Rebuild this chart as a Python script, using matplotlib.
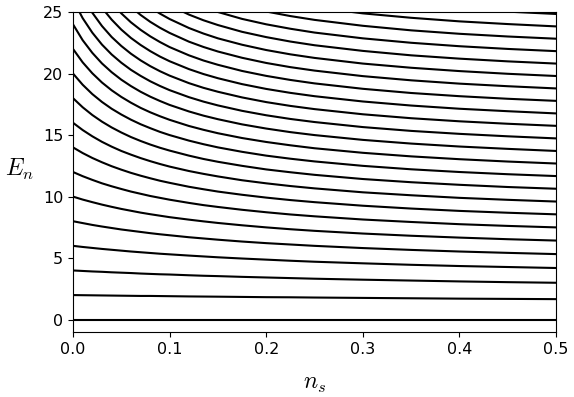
import matplotlib
matplotlib.use("Agg")
import matplotlib.pyplot as plt

plt.rcParams["mathtext.fontset"] = "cm"

# sample positions along n_s
n_s = [0.0, 0.01, 0.02, 0.03, 0.04, 0.05, 0.06, 0.07, 0.08, 0.09, 0.10, 0.12,
       0.135, 0.15, 0.175, 0.20, 0.225, 0.25, 0.30, 0.35, 0.40, 0.45, 0.50]

# energy levels E_n at the n_s positions above
level_00 = [0.0] * 23
level_01 = [2.00, 1.99, 1.98, 1.97, 1.96, 1.95, 1.94, 1.93, 1.93, 1.92, 1.91, 1.89, 1.88, 1.87, 1.85, 1.83, 1.82, 1.80, 1.77, 1.74, 1.71, 1.69, 1.67]
level_02 = [4.00, 3.96, 3.92, 3.89, 3.85, 3.82, 3.79, 3.75, 3.72, 3.69, 3.67, 3.61, 3.57, 3.54, 3.48, 3.43, 3.38, 3.33, 3.25, 3.18, 3.11, 3.05, 3.00]
level_03 = [6.00, 5.91, 5.83, 5.75, 5.68, 5.61, 5.54, 5.48, 5.42, 5.36, 5.31, 5.21, 5.14, 5.07, 4.97, 4.88, 4.79, 4.71, 4.58, 4.46, 4.36, 4.28, 4.20]
level_04 = [8.00, 7.85, 7.70, 7.57, 7.45, 7.33, 7.23, 7.13, 7.03, 6.94, 6.86, 6.70, 6.60, 6.50, 6.35, 6.22, 6.11, 6.00, 5.82, 5.67, 5.54, 5.43, 5.33]
level_05 = [10.00, 9.76, 9.55, 9.35, 9.17, 9.00, 8.85, 8.70, 8.57, 8.45, 8.33, 8.13, 7.99, 7.86, 7.67, 7.50, 7.35, 7.22, 7.00, 6.82, 6.67, 6.54, 6.43]
level_06 = [12.00, 11.66, 11.36, 11.08, 10.84, 10.62, 10.41, 10.23, 10.05, 9.90, 9.75, 9.49, 9.31, 9.16, 8.93, 8.73, 8.55, 8.40, 8.14, 7.94, 7.76, 7.62, 7.50]
level_07 = [14.00, 13.54, 13.14, 12.79, 12.47, 12.19, 11.93, 11.70, 11.49, 11.29, 11.12, 10.80, 10.60, 10.41, 10.15, 9.92, 9.72, 9.55, 9.26, 9.03, 8.84, 8.69, 8.56]
level_08 = [16.00, 15.41, 14.90, 14.45, 14.06, 13.71, 13.41, 13.13, 12.88, 12.65, 12.44, 12.08, 11.85, 11.64, 11.33, 11.08, 10.86, 10.67, 10.35, 10.11, 9.90, 9.74, 9.60]
level_09 = [18.00, 17.26, 16.63, 16.09, 15.62, 15.21, 14.84, 14.52, 14.23, 13.97, 13.74, 13.33, 13.06, 12.83, 12.50, 12.21, 11.98, 11.77, 11.43, 11.17, 10.96, 10.78, 10.64]
level_10 = [20.00, 19.09, 18.33, 17.69, 17.14, 16.67, 16.25, 15.88, 15.56, 15.26, 15.00, 14.55, 14.26, 14.00, 13.64, 13.33, 13.08, 12.86, 12.50, 12.22, 12.00, 11.82, 11.67]
level_11 = [22.00, 20.91, 20.02, 19.27, 18.64, 18.10, 17.63, 17.21, 16.85, 16.53, 16.24, 15.74, 15.43, 15.15, 14.76, 14.44, 14.17, 13.93, 13.56, 13.27, 13.04, 12.85, 12.69]
level_12 = [24.00, 22.71, 21.68, 20.82, 20.11, 19.50, 18.98, 18.52, 18.12, 17.77, 17.45, 16.92, 16.58, 16.29, 15.87, 15.53, 15.24, 15.00, 14.61, 14.31, 14.07, 13.88, 13.71]
level_13 = [26.00, 24.50, 23.32, 22.35, 21.55, 20.88, 20.30, 19.81, 19.37, 18.99, 18.65, 18.08, 17.72, 17.41, 16.97, 16.61, 16.31, 16.06, 15.65, 15.34, 15.10, 14.90, 14.73]
level_14 = [28.00, 26.28, 24.94, 23.86, 22.97, 22.24, 21.61, 21.07, 20.60, 20.19, 19.83, 19.22, 18.84, 18.52, 18.06, 17.68, 17.37, 17.11, 16.69, 16.37, 16.12, 15.92, 15.75]
level_15 = [30.00, 28.04, 26.54, 25.34, 24.38, 23.57, 22.89, 22.32, 21.82, 21.38, 21.00, 20.36, 19.96, 19.62, 19.14, 18.75, 18.43, 18.16, 17.73, 17.40, 17.14, 16.94, 16.76]
level_16 = [32.00, 29.79, 28.12, 26.81, 25.76, 24.89, 24.16, 23.55, 23.02, 22.56, 22.15, 21.48, 21.06, 20.71, 20.21, 19.81, 19.48, 19.20, 18.76, 18.42, 18.16, 17.95, 17.78]
level_17 = [34.00, 31.53, 29.69, 28.26, 27.12, 26.19, 25.42, 24.76, 24.20, 23.72, 23.30, 22.59, 22.16, 21.79, 21.28, 20.86, 20.52, 20.24, 19.79, 19.45, 19.18, 18.97, 18.79]
level_18 = [36.00, 33.25, 31.24, 29.69, 28.47, 27.47, 26.65, 25.96, 25.38, 24.87, 24.43, 23.70, 23.25, 22.86, 22.34, 21.91, 21.56, 21.27, 20.81, 20.47, 20.20, 19.98, 19.80]
level_19 = [38.00, 34.97, 32.77, 31.10, 29.80, 28.74, 27.88, 27.15, 26.54, 26.01, 25.55, 24.79, 24.33, 23.94, 23.39, 22.96, 22.60, 22.30, 21.84, 21.48, 21.21, 20.99, 20.81]
level_20 = [40.00, 36.67, 34.29, 32.50, 31.11, 30.00, 29.09, 28.33, 27.69, 27.14, 26.67, 25.88, 25.41, 25.00, 24.44, 24.00, 23.64, 23.33, 22.86, 22.50, 22.22, 22.00, 21.82]
level_21 = [42.00, 38.36, 35.79, 33.88, 32.41, 31.24, 30.29, 29.50, 28.84, 28.27, 27.77, 26.97, 26.48, 26.06, 25.49, 25.04, 24.67, 24.36, 23.88, 23.51, 23.23, 23.01, 22.83]
level_22 = [44.00, 40.03, 37.28, 35.25, 33.70, 32.48, 31.48, 30.66, 29.97, 29.38, 28.88, 28.04, 27.54, 27.12, 26.54, 26.07, 25.70, 25.38, 24.89, 24.53, 24.24, 24.02, 23.83]
level_23 = [46.00, 41.70, 38.75, 36.61, 34.98, 33.70, 32.66, 31.81, 31.10, 30.49, 29.97, 29.12, 28.60, 28.17, 27.58, 27.11, 26.72, 26.41, 25.91, 25.54, 25.25, 25.03, 24.84]

levels = [level_00, level_01, level_02, level_03, level_04, level_05,
          level_06, level_07, level_08, level_09, level_10, level_11,
          level_12, level_13, level_14, level_15, level_16, level_17,
          level_18, level_19, level_20, level_21, level_22, level_23]

x_ticks = [0.0, 0.1, 0.2, 0.3, 0.4, 0.5]
y_ticks = [0, 5, 10, 15, 20, 25]

fig = plt.figure(figsize=(5.74, 3.97), dpi=100)
ax = fig.add_axes([73 / 574, 1 - 332 / 397, (556 - 73) / 574, (332 - 12) / 397])

for lev in levels:
    ax.plot(n_s, lev, color="black", lw=1.5)

ax.set_xlim(0, 0.5)
ax.set_ylim(-1, 25)
ax.set_xticks(x_ticks)
ax.set_yticks(y_ticks)
ax.set_xticklabels([f"{t:.1f}" for t in x_ticks])
ax.tick_params(labelsize=11.5)
ax.set_xlabel("$n_s$", fontsize=17, labelpad=10)
ax.set_ylabel("$E_n$", fontsize=17, rotation=0, labelpad=16)
ax.yaxis.set_label_coords(-0.11, 0.47)

fig.savefig("out.png", dpi=100)
